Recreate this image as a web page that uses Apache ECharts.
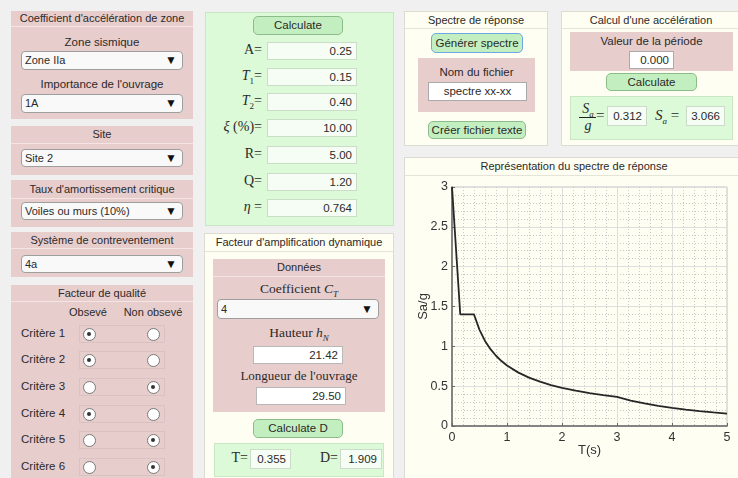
<!DOCTYPE html>
<html><head><meta charset="utf-8">
<script src="https://cdn.jsdelivr.net/npm/echarts@6/dist/echarts.min.js"></script>
<style>
html,body{margin:0;padding:0;}
body{width:738px;height:478px;overflow:hidden;background:#f0f0f0;font-family:"Liberation Sans",Arial,sans-serif;font-size:11px;color:#2a2a2a;position:relative;}
.a{position:absolute;box-sizing:border-box;white-space:nowrap;}
.pink{background:#e8cdcd;}
.green{background:#dcf9d8;border:1px solid #c9e6c5;}
.cream{background:#fefef2;border:1px solid #dcdcd2;}
.hdr{position:absolute;left:0;right:0;top:0;text-align:center;box-sizing:border-box;border-bottom:1px solid #f4e4e4;}
.cream .hdr{border-bottom:1px solid #e4e4d8;}
.sel{background:#f9f9f9;border:1px solid #9e9e9e;border-radius:4px;padding-left:3px;font-size:11px;}
.sel span{position:absolute;right:5px;font-size:12px;color:#111;}
.btn{background:#c3efc0;border:1px solid #8cbc89;border-radius:5px;text-align:center;font-size:11.5px;}
.inp{background:#fff;border:1px solid #c8c8c8;text-align:right;padding-right:4px;font-size:11.5px;}
.ginp{background:#f6fdf5;border:1px solid #cbdcc9;text-align:right;padding-right:4px;font-size:11.5px;}
.math{font-family:"Liberation Serif","Times New Roman",serif;font-size:14px;}
.rad{width:12px;height:12px;border-radius:50%;border:1px solid #7a7a7a;background:#fff;}
.rad.on::after{content:"";position:absolute;left:3px;top:3px;width:4px;height:4px;border-radius:50%;background:#333;}
</style></head>
<body>
<div id="ui"></div>
<div id="chart" class="a" style="left:405px;top:175px;width:332px;height:303px;"></div>
<script>
// ---- chart data ----
const periodT = [0, 0.15, 0.4, 0.5, 0.6, 0.7, 0.8, 0.9, 1.0, 1.2, 1.4, 1.6, 1.8, 2.0, 2.25, 2.5, 2.75, 3.0, 3.25, 3.5, 3.75, 4.0, 4.25, 4.5, 4.75, 5.0];
const saOverG = [3.0, 1.4, 1.4, 1.207, 1.068, 0.964, 0.882, 0.815, 0.760, 0.673, 0.607, 0.556, 0.514, 0.479, 0.443, 0.413, 0.387, 0.366, 0.320, 0.283, 0.252, 0.227, 0.205, 0.186, 0.170, 0.156];
const xTicks = [0, 1, 2, 3, 4, 5];
const yTicks = [0, 0.5, 1, 1.5, 2, 2.5, 3];

// ---- UI ----
const ui = document.getElementById('ui');
function el(x, y, w, h, cls, html, style) {
  const d = document.createElement('div');
  d.className = 'a ' + (cls || '');
  d.style.left = x + 'px'; d.style.top = y + 'px';
  if (w != null) d.style.width = w + 'px';
  if (h != null) { d.style.height = h + 'px'; d.style.lineHeight = (h - 2) + 'px'; }
  if (html != null) d.innerHTML = html;
  if (style) d.style.cssText += style;
  ui.appendChild(d);
  return d;
}
function panel(x, y, w, h, cls, title, hh) {
  const p = el(x, y, w, h, cls, '');
  p.style.lineHeight = 'normal';
  if (title) {
    const t = document.createElement('div');
    t.className = 'hdr'; t.style.height = hh + 'px'; t.style.lineHeight = (hh - 1) + 'px';
    t.textContent = title; p.appendChild(t);
  }
  return p;
}
function ctext(x, w, yc, txt, cls, style) { return el(x, yc - 8, w, 17, cls, txt, 'text-align:center;' + (style || '')); }
function sel(x, y, w, h, txt) { return el(x, y, w, h, 'sel', txt + '<span>&#9660;</span>'); }

// left column
panel(11, 11, 182, 108, 'pink', "Coefficient d'accélération de zone", 16);
ctext(11, 182, 43, 'Zone sismique', '', 'font-size:11.5px');
sel(21, 51, 162, 19, 'Zone IIa');
ctext(11, 182, 85, "Importance de l'ouvrage", '', 'font-size:11.5px');
sel(21, 94, 162, 19, '1A');

panel(11, 126, 182, 49, 'pink', 'Site', 18);
sel(21, 149, 162, 18, 'Site 2');

panel(11, 180, 182, 47, 'pink', "Taux d'amortissement critique", 19);
sel(21, 202, 162, 18, 'Voiles ou murs (10%)');

panel(11, 232, 182, 45, 'pink', 'Système de contreventement', 17);
sel(21, 255, 162, 18, '4a');

panel(11, 285, 182, 200, 'pink', 'Facteur de qualité', 17);
ctext(60, 56, 313, 'Obsevé');
ctext(118, 70, 313, 'Non obsevé');
const crit = [1, 1, 0, 1, 0, 0];
const rowY = [334, 360, 387, 414, 440, 467];
crit.forEach((c, i) => {
  const yc = rowY[i];
  el(21, yc - 8, 60, 17, '', 'Critère ' + (i + 1), 'font-size:11.5px');
  el(79, yc - 9, 86, 18, '', '', 'border:1px solid #d9c2c2;');
  el(83, yc - 6, 13, 13, 'rad' + (c ? ' on' : ''), '');
  el(147, yc - 6, 13, 13, 'rad' + (!c ? ' on' : ''), '');
});

// middle column
panel(205, 12, 189, 214, 'green', null);
el(253, 16, 90, 19, 'btn', 'Calculate');
const lbl = ['A=', '<i>T</i><sub style="font-size:9px">1</sub>=', '<i>T</i><sub style="font-size:9px">2</sub>=', '<i>ξ</i> (%)=', 'R=', 'Q=', '<i>η</i> ='];
const vals = ['0.25', '0.15', '0.40', '10.00', '5.00', '1.20', '0.764'];
const ry = [51, 77, 102, 128, 155, 182, 208];
lbl.forEach((l, i) => {
  el(205, ry[i] - 9, 57, 18, 'math', l, 'text-align:right;');
  el(267, ry[i] - 9, 90, 18, 'ginp', vals[i]);
});

panel(204, 233, 190, 260, 'cream', "Facteur d'amplification dynamique", 18);
panel(213, 259, 172, 153, 'pink', 'Données', 18);
ctext(213, 172, 289, 'Coefficient <i>C<sub style="font-size:9px">T</sub></i>', 'math', 'font-size:13.5px');
sel(217, 299, 162, 20, '4');
ctext(213, 172, 333, 'Hauteur <i>h<sub style="font-size:9px">N</sub></i>', 'math', 'font-size:13.5px');
el(253, 346, 90, 18, 'inp', '21.42', 'border-color:#b8b8b8');
ctext(213, 172, 376, "Longueur de l'ouvrage", 'math', 'font-size:13px');
el(256, 387, 90, 18, 'inp', '29.50', 'border-color:#b8b8b8');
el(253, 419, 90, 19, 'btn', 'Calculate D');
panel(214, 443, 170, 34, 'green', null);
el(222, 450, 26, 18, 'math', 'T=', 'text-align:right');
el(250, 449, 41, 20, 'ginp', '0.355');
el(312, 450, 26, 18, 'math', 'D=', 'text-align:right');
el(340, 449, 42, 20, 'ginp', '1.909');

// right top
panel(404, 11, 144, 135, 'cream', 'Spectre de réponse', 17);
el(431, 33, 92, 20, 'btn', 'Générer spectre', 'border:1.5px solid #6aa8e6;');
panel(418, 58, 117, 54, 'pink', null);
ctext(418, 117, 73, 'Nom du fichier', '', 'font-size:11.5px');
el(428, 82, 99, 19, 'inp', 'spectre xx-xx', 'text-align:center;padding:0;border-color:#aaa');
el(428, 121, 98, 18, 'btn', 'Créer fichier texte');

panel(561, 11, 180, 135, 'cream', "Calcul d'une accélération", 17);
panel(570, 32, 163, 39, 'pink', null);
ctext(570, 163, 42, 'Valeur de la période', '', 'font-size:11.5px');
el(629, 51, 45, 18, 'inp', '0.000', 'border-color:#aaa');
el(606, 73, 91, 18, 'btn', 'Calculate');
panel(570, 96, 163, 44, 'green', null);
el(578, 102, 20, 14, 'math', '<i>S<sub style="font-size:9px">a</sub></i>', 'text-align:center;line-height:14px;');
el(579, 117, 17, 1, '', '', 'background:#222;');
el(578, 118, 20, 16, 'math', '<i>g</i>', 'text-align:center;line-height:16px;');
el(596, 107, 14, 18, 'math', '=', 'font-size:15px');
el(607, 106, 40, 20, 'ginp', '0.312');
el(655, 107, 30, 18, 'math', '<i>S<sub style="font-size:9px">a</sub></i> =', 'font-size:15px');
el(686, 106, 39, 20, 'ginp', '3.066');

panel(404, 157, 340, 330, 'cream', 'Représentation du spectre de réponse', 18);

// ---- chart ----
const chart = echarts.init(document.getElementById('chart'), null, {renderer: 'canvas'});
const lab = {color: '#333', fontSize: 12.5, fontFamily: 'Liberation Sans, Arial'};
chart.setOption({
  animation: false,
  grid: {left: 47, top: 12, width: 275, height: 239, show: true, borderColor: '#c4c4c4', borderWidth: 1,
         backgroundColor: 'transparent', containLabel: false, outerBoundsMode: 'none'},
  xAxis: {
    type: 'value', min: xTicks[0], max: xTicks[xTicks.length - 1], interval: 1,
    name: 'T(s)', nameLocation: 'middle', nameGap: 18, nameMoveOverlap: false,
    nameTextStyle: {color: '#333', fontSize: 13, fontFamily: 'Liberation Sans, Arial'},
    axisLine: {show: true, lineStyle: {color: '#666', width: 1.5}},
    axisTick: {show: true, inside: true, length: 3, lineStyle: {color: '#666'}},
    axisLabel: Object.assign({margin: 5}, lab),
    splitLine: {show: true, lineStyle: {color: '#dedede', width: 1}},
    minorTick: {show: true, splitNumber: 5, length: 0},
    minorSplitLine: {show: true, lineStyle: {color: '#c9c9c9', width: 1, type: [1, 2]}}
  },
  yAxis: {
    type: 'value', min: yTicks[0], max: yTicks[yTicks.length - 1], interval: 0.5,
    name: 'Sa/g', nameLocation: 'middle', nameGap: 22, nameRotate: 90, nameMoveOverlap: false,
    nameTextStyle: {color: '#333', fontSize: 13, fontFamily: 'Liberation Sans, Arial'},
    axisLine: {show: true, lineStyle: {color: '#666', width: 1.5}},
    axisTick: {show: true, inside: true, length: 3, lineStyle: {color: '#666'}},
    axisLabel: Object.assign({margin: 4}, lab),
    splitLine: {show: true, lineStyle: {color: '#dedede', width: 1}},
    minorTick: {show: true, splitNumber: 5, length: 0},
    minorSplitLine: {show: true, lineStyle: {color: '#c9c9c9', width: 1, type: [1, 2]}}
  },
  series: [{
    type: 'line', data: periodT.map((t, i) => [t, saOverG[i]]),
    showSymbol: false, smooth: false, clip: true,
    lineStyle: {color: '#262626', width: 1.8}
  }]
});
</script>
</body></html>
